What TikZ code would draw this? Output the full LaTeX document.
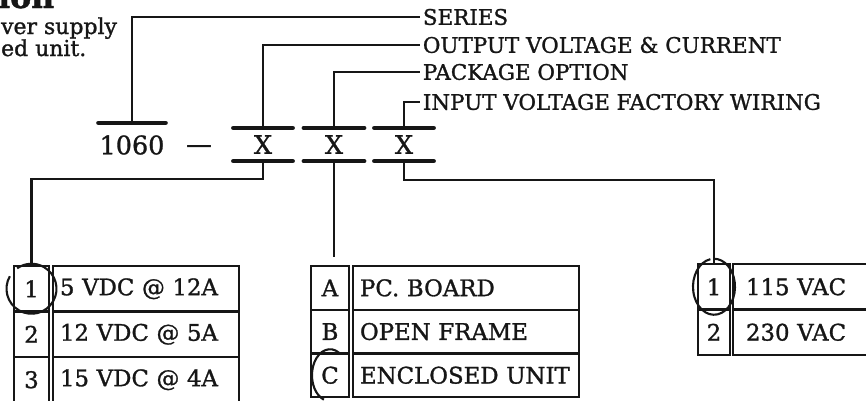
\documentclass[tikz,border=0pt]{standalone}
\usepackage{fontspec}
\setmainfont{DejaVu Serif}[FakeBold=1.2]
\usetikzlibrary{positioning}
\definecolor{ink}{RGB}{22,22,22}
\newcommand{\tabfont}{\fontsize{13}{15}\selectfont}
\newcommand{\codefont}{\fontsize{14.5}{17}\selectfont}

\begin{document}
\begin{tikzpicture}[x=0.02cm,y=-0.02cm,ink,line width=1.3pt,
  lbl/.style={font=\fontsize{12.2}{14}\selectfont,anchor=west,inner sep=1pt},
  note/.style={font=\fontsize{12.5}{15}\selectfont,anchor=base west,inner sep=0pt},
  bar/.style={line width=2.6pt,line cap=round},
  code/.style={font=\codefont,inner sep=0pt},
  cell/.style={draw,font=\tabfont,inner sep=0pt,outer sep=0pt},
  numcell/.style 2 args={cell,minimum width=#1,minimum height=#2},
  txtcell/.style n args={3}{cell,text width=#1,inner xsep=#2,minimum height=#3,align=left},
  pen/.style={line width=1.2pt}]
\useasboundingbox (0,0) rectangle (866,400);

% cut-off text at the top left
\node[note,font=\fontsize{18}{20}\selectfont\bfseries] (title) at (-3,8) {ion};
\node[note] (note1) at (0,34) {ver supply};
\node[note] (note2) at (0,56) {ed unit.};

% part number
\node[code,minimum height=0.84cm] (series no) at (132,145) {1060};
\node[code] (dash) at (199,149) {---};
\node[code,minimum width=1.14cm,minimum height=0.62cm] (xout) at (263,144.5) {X};
\node[code,minimum width=1.16cm,minimum height=0.62cm] (xpkg) at (334,144.5) {X};
\node[code,minimum width=1.14cm,minimum height=0.62cm] (xin) at (404,144.5) {X};
\draw[bar] (series no.north west) -- (series no.north east);
\foreach \n in {xout,xpkg,xin} {
  \draw[bar] (\n.north west) -- (\n.north east);
  \draw[bar] (\n.south west) -- (\n.south east);
}

% field labels
\node[lbl] (series) at (420,17) {SERIES};
\node[lbl] (output) at (420,45) {OUTPUT VOLTAGE \& CURRENT};
\node[lbl] (package) at (420,72) {PACKAGE OPTION};
\node[lbl] (input) at (420,102) {INPUT VOLTAGE FACTORY WIRING};
\draw (series no.north) |- (series.west);
\draw (xout.north) |- (output.west);
\draw (xpkg.north) |- (package.west);
\draw (xin.north) |- (input.west);

% output table
\node[numcell={0.7cm}{0.91cm}] (o1) at (31.5,288.75) {1};
\node[txtcell={3.44cm}{0.14cm}{0.91cm},right=0.08cm of o1] (o1t) {5 VDC @ 12A};
\node[numcell={0.7cm}{0.91cm},below=0pt of o1] (o2) {2};
\node[txtcell={3.44cm}{0.14cm}{0.91cm},right=0.08cm of o2] (o2t) {12 VDC @ 5A};
\node[numcell={0.7cm}{0.91cm},below=0pt of o2] (o3) {3};
\node[txtcell={3.44cm}{0.14cm}{0.91cm},right=0.08cm of o3] (o3t) {15 VDC @ 4A};

% package table
\node[numcell={0.76cm}{0.874cm}] (pA) at (330,287.85) {A};
\node[txtcell={4.24cm}{0.14cm}{0.874cm},right=0.08cm of pA] (pAt) {PC. BOARD};
\node[numcell={0.76cm}{0.874cm},below=0pt of pA] (pB) {B};
\node[txtcell={4.24cm}{0.14cm}{0.874cm},right=0.08cm of pB] (pBt) {OPEN FRAME};
\node[numcell={0.76cm}{0.874cm},below=0pt of pB] (pC) {C};
\node[txtcell={4.24cm}{0.14cm}{0.874cm},right=0.08cm of pC] (pCt) {ENCLOSED UNIT};

% input table
\node[numcell={0.64cm}{0.91cm}] (i1) at (714,286.75) {1};
\node[txtcell={2.48cm}{0.26cm}{0.91cm},right=0.06cm of i1] (i1t) {115 VAC};
\node[numcell={0.64cm}{0.91cm},below=0pt of i1] (i2) {2};
\node[txtcell={2.48cm}{0.26cm}{0.91cm},right=0.06cm of i2] (i2t) {230 VAC};

% option leads
\coordinate (pkg end) at (334,257);
\draw (xout.south) -- ++(0,18) -| (o1.north);
\draw (xpkg.south) -- (pkg end);
\draw (xin.south) -- ++(0,19) -| (i1.north);

% hand-drawn marks
\draw[pen] ([shift={(150:0.5cm and 0.5cm)}]o1.center) arc[start angle=150,end angle=485,x radius=0.5cm,y radius=0.5cm];
\draw[pen] ([shift={(100:0.42cm and 0.56cm)}]i1.center) arc[start angle=100,end angle=450,x radius=0.42cm,y radius=0.56cm];
\draw[pen] ([shift={(60:0.36cm and 0.52cm)}]pC.center) arc[start angle=60,end angle=250,x radius=0.36cm,y radius=0.52cm];
\end{tikzpicture}
\end{document}
